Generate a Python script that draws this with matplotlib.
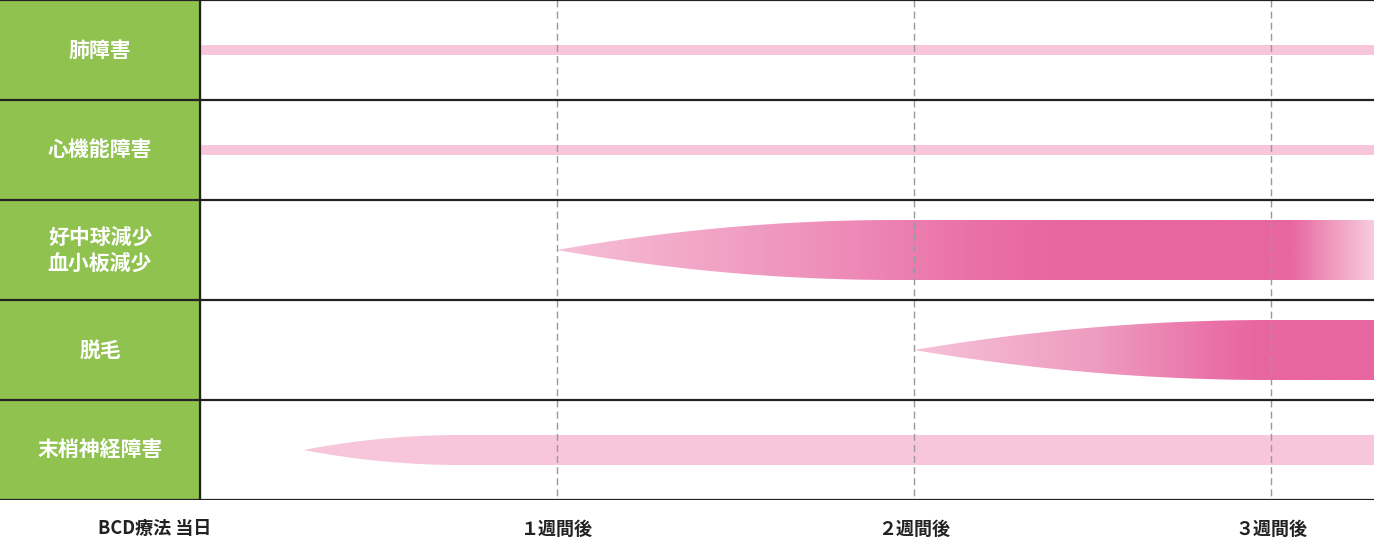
import numpy as np
import matplotlib.pyplot as plt
from matplotlib.colors import LinearSegmentedColormap
from matplotlib.patches import Polygon, Rectangle

plt.rcParams['font.family'] = ['Noto Sans CJK JP', 'DejaVu Sans']

# rows (top to bottom)
row_labels = ['肺障害', '心機能障害', '好中球減少\n血小板減少', '脱毛', '末梢神経障害']
onset_weeks = [0.0, 0.0, 1.0, 2.0, 0.29]      # where the band starts
full_weeks = [0.0, 0.0, 1.95, 3.0, 0.73]      # where it reaches full width
band_height = [0.1, 0.1, 0.6, 0.6, 0.3]       # in row units
gradient_kind = ['flat', 'flat', 'fade', 'ramp', 'flat']

tick_weeks = [0, 1, 2, 3]
tick_labels = ['BCD療法 当日', '１週間後', '２週間後', '３週間後']

light = '#f7c6da'
dark = '#e8669f'
green = '#8fc24f'

x_min, x_max = -200 / 357, 1174 / 357
fig = plt.figure(figsize=(13.74, 5.39), dpi=100)
ax = fig.add_axes([0, 39 / 539, 1, 500 / 539])
ax.set_xlim(x_min, x_max)
ax.set_ylim(5, 0)
ax.axis('off')

cmaps = {
    'fade': LinearSegmentedColormap.from_list('f', [(0, '#f6bfd6'), (0.33, '#ee8fba'),
                                                     (0.5, '#ea72a8'), (0.62, dark),
                                                     (0.9, dark), (1.0, '#f7cadd')]),
    'ramp': LinearSegmentedColormap.from_list('r', [(0, '#f6c2d8'), (0.4, '#ee9bc0'),
                                                     (0.65, '#ea72a8'), (0.75, dark), (1, dark)]),
}

for i, (lab, on, full, h, kind) in enumerate(zip(row_labels, onset_weeks, full_weeks,
                                                  band_height, gradient_kind)):
    yc = i + 0.5
    ax.add_patch(Rectangle((x_min, i), -x_min, 1, color=green, zorder=1))
    ax.text(x_min / 2, yc, lab, color='white', fontweight='bold', fontsize=15,
            ha='center', va='center', linespacing=1.3, zorder=5)
    xs = np.linspace(on, x_max, 300)
    if full > on:
        s = np.clip((xs - on) / (full - on), 0, 1)
        half = h / 2 * (1 - (1 - s) ** 2)
    else:
        half = np.full_like(xs, h / 2)
    poly = np.concatenate([np.c_[xs, yc - half], np.c_[xs[::-1], yc + half[::-1]]])
    patch = Polygon(poly, closed=True, facecolor=light if kind == 'flat' else 'none',
                    edgecolor='none', zorder=2)
    ax.add_patch(patch)
    if kind != 'flat':
        grad = np.linspace(0, 1, 500)[None, :]
        im = ax.imshow(grad, cmap=cmaps[kind], aspect='auto',
                       extent=(on, x_max, yc + h / 2, yc - h / 2), zorder=2)
        im.set_clip_path(patch)

for w in tick_weeks[1:]:
    ax.plot([w, w], [0, 5], color='#999999', lw=1, ls=(0, (5, 3)), zorder=3)
for y in range(6):
    ax.plot([x_min, x_max], [y, y], color='#222222', lw=1.6, zorder=4)
ax.plot([0, 0], [0, 5], color='#222222', lw=1.6, zorder=4)

ax.set_ylim(5, 0)
ax.set_xlim(x_min, x_max)
for w, t in zip(tick_weeks, tick_labels):
    xpos = -0.126 if w == 0 else w
    ax.text(xpos, 5.29, t, ha='center', va='center', fontsize=13,
            fontweight='bold', color='#222222')

fig.savefig('out.png', dpi=100)
